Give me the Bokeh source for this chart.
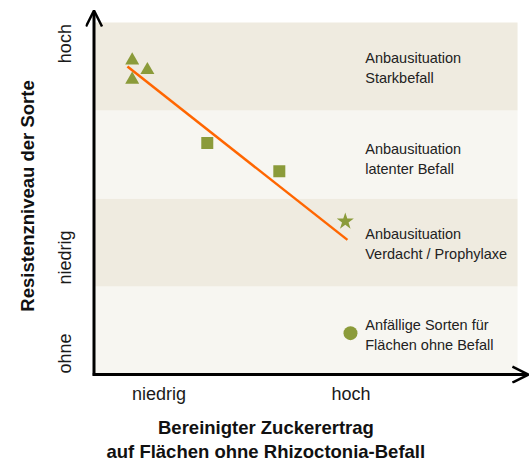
from bokeh.plotting import figure
from bokeh.models import Range1d, FixedTicker, Arrow, OpenHead, Title
from bokeh.core.properties import value
from bokeh.embed import file_html
from bokeh.resources import INLINE

# ---- data (arbitrary qualitative units) ----
band_bottom = [0, 1, 2, 3]
band_top = [1, 2, 3, 4]
band_right = [97.6, 97.6, 97.6, 97.6]
band_colors = ["#f7f6f1", "#efebe0", "#f7f6f1", "#efebe0"]
band_text = ["Anfällige Sorten für\nFlächen ohne Befall",
             "Anbausituation\nVerdacht / Prophylaxe",
             "Anbausituation\nlatenter Befall",
             "Anbausituation\nStarkbefall"]
band_text_x = [62.5, 62.5, 62.5, 62.5]
band_text_y = [0.45, 1.48, 2.45, 3.48]

tri_x = [8.8, 12.3, 8.8]
tri_y = [3.57, 3.46, 3.35]
sq_x = [26.1, 42.7]
sq_y = [2.63, 2.31]
star_x = [57.9]
star_y = [1.74]
circ_x = [59.1]
circ_y = [0.47]
trend_x = [7.7, 58.4]
trend_y = [3.50, 1.53]

x_ticks = [15.0, 59.2]
x_tick_labels = ["niedrig", "hoch"]
y_ticks = [0.24, 1.33, 3.76]
y_tick_labels = ["ohne", "niedrig", "hoch"]

x_title = ["Bereinigter Zuckerertrag", "auf Flächen ohne Rhizoctonia-Befall"]
y_title = "Resistenzniveau der Sorte"

FONT = "Liberation Sans"
GREEN = "#8b9b3a"

p = figure(width=531, height=462, output_backend="svg", toolbar_location=None,
           x_range=Range1d(-1.96, 100.81), y_range=Range1d(-0.102, 4.159),
           min_border_left=85, min_border_right=0, min_border_top=8, min_border_bottom=79)
p.outline_line_color = None
p.xgrid.visible = False
p.ygrid.visible = False
p.background_fill_color = "white"
p.border_fill_color = "white"

# bands
p.quad(left=0, right=band_right, bottom=band_bottom, top=band_top,
       fill_color=band_colors, line_color=None)
p.text(x=band_text_x, y=band_text_y, text=band_text, text_font=value(FONT),
       text_font_size="14.5px", text_color="#222222", text_baseline="middle",
       text_align="left", text_line_height=1.25)

# trend line
p.line(trend_x, trend_y, line_color="#ff6600", line_width=2.5)

# markers
p.scatter(tri_x, tri_y, marker="triangle", size=14, fill_color=GREEN, line_color=None)
p.scatter(sq_x, sq_y, marker="square", size=12, fill_color=GREEN, line_color=None)
p.scatter(star_x, star_y, marker="star", size=18, fill_color=GREEN, line_color=None)
p.scatter(circ_x, circ_y, marker="circle", size=14, fill_color=GREEN, line_color=None)

# axis arrows
p.add_layout(Arrow(end=OpenHead(size=16, line_width=2.5, line_color="black"),
                   x_start=0, y_start=-0.015, x_end=0, y_end=4.136,
                   line_width=3, line_color="black"))
p.add_layout(Arrow(end=OpenHead(size=16, line_width=2.5, line_color="black"),
                   x_start=-0.3, y_start=0, x_end=100.1, y_end=0,
                   line_width=3, line_color="black"))

for ax in (p.xaxis[0], p.yaxis[0]):
    ax.axis_line_color = None
    ax.major_tick_line_color = None
    ax.minor_tick_line_color = None
    ax.major_label_text_font = FONT
    ax.major_label_text_font_size = "18px"
    ax.major_label_text_color = "#1a1a1a"

p.xaxis.ticker = FixedTicker(ticks=x_ticks)
p.xaxis.major_label_overrides = dict(zip(x_ticks, x_tick_labels))
p.xaxis.major_label_standoff = -6

p.yaxis.ticker = FixedTicker(ticks=y_ticks)
p.yaxis.major_label_overrides = dict(zip(y_ticks, y_tick_labels))
p.yaxis.major_label_orientation = "vertical"
p.yaxis.major_label_standoff = 4
p.yaxis.axis_label = y_title
p.yaxis.axis_label_text_font = FONT
p.yaxis.axis_label_text_font_size = "18.5px"
p.yaxis.axis_label_text_font_style = "bold"
p.yaxis.axis_label_text_color = "#111111"
p.yaxis.axis_label_standoff = 15

for txt, off, so in zip(x_title, [72.5, 21], [17, -16]):
    p.add_layout(Title(text=txt, align="left", offset=off, text_font=FONT,
                       text_font_size="18.5px", text_font_style="bold",
                       text_color="#111111", standoff=so), "below")

open("out.html", "w").write(file_html(p, INLINE))
